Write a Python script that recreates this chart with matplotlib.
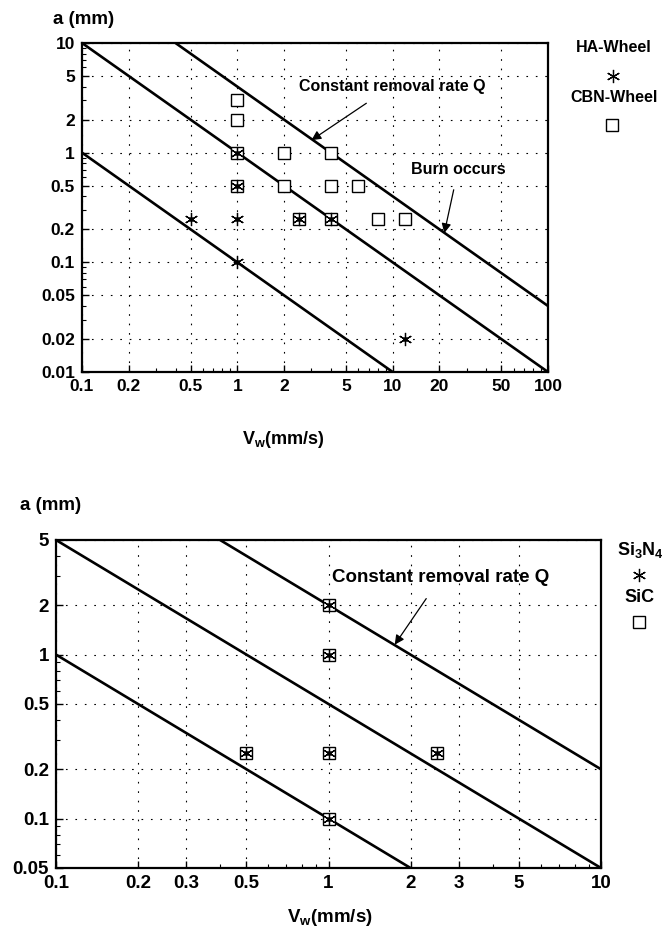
import matplotlib
matplotlib.use("Agg")
import matplotlib.pyplot as plt
from matplotlib.ticker import FixedLocator, FixedFormatter, LogLocator, NullFormatter

plt.rcParams['font.family'] = ['Liberation Sans', 'DejaVu Sans']
plt.rcParams['font.weight'] = 'bold'
plt.rcParams['mathtext.fontset'] = 'custom'
plt.rcParams['mathtext.rm'] = 'Liberation Sans:bold'
plt.rcParams['mathtext.it'] = 'Liberation Sans:bold'
plt.rcParams['mathtext.bf'] = 'Liberation Sans:bold'

# ---------------- data: top chart ----------------
top_xticks = [0.1, 0.2, 0.5, 1, 2, 5, 10, 20, 50, 100]
top_xlabels = ['0.1', '0.2', '0.5', '1', '2', '5', '10', '20', '50', '100']
top_yticks = [0.01, 0.02, 0.05, 0.1, 0.2, 0.5, 1, 2, 5, 10]
top_ylabels = ['0.01', '0.02', '0.05', '0.1', '0.2', '0.5', '1', '2', '5', '10']

ha_v = [0.5, 1, 1, 1, 1, 2.5, 4, 12]
ha_a = [0.25, 1, 0.5, 0.25, 0.1, 0.25, 0.25, 0.02]
cbn_v = [1, 1, 1, 2, 4, 1, 2, 4, 6, 2.5, 4, 8, 12]
cbn_a = [3, 2, 1, 1, 1, 0.5, 0.5, 0.5, 0.5, 0.25, 0.25, 0.25, 0.25]

# constant-Q lines (start point, end point)
top_lines_v = [[0.1, 10], [0.1, 100], [0.4, 100]]
top_lines_a = [[1, 0.01], [10, 0.01], [10, 0.04]]

# ---------------- data: bottom chart ----------------
bot_xticks = [0.1, 0.2, 0.3, 0.5, 1, 2, 3, 5, 10]
bot_xlabels = ['0.1', '0.2', '0.3', '0.5', '1', '2', '3', '5', '10']
bot_yticks = [0.05, 0.1, 0.2, 0.5, 1, 2, 5]
bot_ylabels = ['0.05', '0.1', '0.2', '0.5', '1', '2', '5']

si3n4_v = [1, 1, 0.5, 1, 2.5, 1]
si3n4_a = [2, 1, 0.25, 0.25, 0.25, 0.1]
sic_v = [1, 1, 0.5, 1, 2.5, 1]
sic_a = [2, 1, 0.25, 0.25, 0.25, 0.1]

bot_lines_v = [[0.1, 2], [0.1, 10], [0.4, 10]]
bot_lines_a = [[1, 0.05], [5, 0.05], [5, 0.2]]

W, H = 662, 939
fig = plt.figure(figsize=(W / 100, H / 100), dpi=100)


def px_axes(l, r, t, b):
    return fig.add_axes([l / W, 1 - b / H, (r - l) / W, (b - t) / H])


def fx(x):
    return x / W


def fy(y):
    return 1 - y / H


STAR = (6, 2, 0)


def style_axes(ax, xt, xl, yt, yl, xlim, ylim, lsize):
    ax.set_xscale('log')
    ax.set_yscale('log')
    ax.set_xlim(*xlim)
    ax.set_ylim(*ylim)
    ax.xaxis.set_major_locator(FixedLocator(xt))
    ax.xaxis.set_major_formatter(FixedFormatter(xl))
    ax.yaxis.set_major_locator(FixedLocator(yt))
    ax.yaxis.set_major_formatter(FixedFormatter(yl))
    ax.xaxis.set_minor_locator(LogLocator(base=10, subs=range(2, 10)))
    ax.yaxis.set_minor_locator(LogLocator(base=10, subs=range(2, 10)))
    ax.xaxis.set_minor_formatter(NullFormatter())
    ax.yaxis.set_minor_formatter(NullFormatter())
    ax.tick_params(which='major', direction='in', length=5, width=1.0,
                   labelsize=lsize, pad=5)
    ax.tick_params(which='minor', direction='in', length=3, width=0.8)
    for lab in ax.get_xticklabels() + ax.get_yticklabels():
        lab.set_fontweight('bold')
    ax.grid(True, which='major', color='black', linestyle=(0, (1.5, 7)),
            linewidth=0.8)
    for s in ax.spines.values():
        s.set_linewidth(1.6)


# ---------------- top chart ----------------
ax1 = px_axes(82, 548, 43, 372)
style_axes(ax1, top_xticks, top_xlabels, top_yticks, top_ylabels,
           (0.1, 100), (0.01, 10), 12.5)
for lv, la in zip(top_lines_v, top_lines_a):
    ax1.plot(lv, la, color='black', lw=1.9, solid_capstyle='butt')
ax1.plot(cbn_v, cbn_a, linestyle='none', marker='s', markersize=9,
         markerfacecolor='white', markeredgecolor='black', markeredgewidth=1.0,
         zorder=3)
ax1.plot(ha_v, ha_a, linestyle='none', marker=STAR, markersize=9.5,
         markeredgecolor='black', markeredgewidth=0.9, zorder=4)
ax1.plot(ha_v, ha_a, linestyle='none', marker='o', markersize=2.5,
         color='black', zorder=5)

fig.text(fx(53), fy(20), 'a (mm)', fontsize=13.5, fontweight='bold',
         ha='left', va='center')
fig.text(fx(283), fy(440), r'$\mathrm{V_w(mm/s)}$', fontsize=13,
         ha='center', va='center')

ax1.annotate('Constant removal rate Q', xy=(3.0, 1.3), xycoords='data',
             xytext=(fx(392), fy(86)), textcoords='figure fraction',
             fontsize=11.5, fontweight='bold', ha='center', va='center',
             arrowprops=dict(arrowstyle='-|>', color='black', lw=0.9,
                             mutation_scale=14, shrinkA=9, shrinkB=0))
ax1.annotate('Burn occurs', xy=(21.5, 0.185), xycoords='data',
             xytext=(fx(458), fy(170)), textcoords='figure fraction',
             fontsize=11.5, fontweight='bold', ha='center', va='center',
             arrowprops=dict(arrowstyle='-|>', color='black', lw=0.9,
                             mutation_scale=14, shrinkA=7, shrinkB=0))

# legend top
fig.text(fx(614), fy(47), 'HA-Wheel', fontsize=11.5, fontweight='bold',
         ha='center', va='center')
ax1.plot([fx(613)], [fy(76)], transform=fig.transFigure, clip_on=False,
         marker=STAR, markersize=9.5, markeredgecolor='black',
         markeredgewidth=0.9, linestyle='none')
fig.text(fx(614), fy(98), 'CBN-Wheel', fontsize=11.5, fontweight='bold',
         ha='center', va='center')
ax1.plot([fx(612)], [fy(125)], transform=fig.transFigure, clip_on=False,
         marker='s', markersize=8, markerfacecolor='white',
         markeredgecolor='black', markeredgewidth=1.0, linestyle='none')

# ---------------- bottom chart ----------------
ax2 = px_axes(56, 601, 540, 868)
style_axes(ax2, bot_xticks, bot_xlabels, bot_yticks, bot_ylabels,
           (0.1, 10), (0.05, 5), 13.5)
for lv, la in zip(bot_lines_v, bot_lines_a):
    ax2.plot(lv, la, color='black', lw=1.9, solid_capstyle='butt')
ax2.plot(sic_v, sic_a, linestyle='none', marker='s', markersize=9,
         markerfacecolor='white', markeredgecolor='black', markeredgewidth=1.0,
         zorder=3)
ax2.plot(si3n4_v, si3n4_a, linestyle='none', marker=STAR, markersize=9,
         markeredgecolor='black', markeredgewidth=0.9, zorder=4)
ax2.plot(si3n4_v, si3n4_a, linestyle='none', marker='o', markersize=2.5,
         color='black', zorder=5)

fig.text(fx(20), fy(505), 'a (mm)', fontsize=13.5, fontweight='bold',
         ha='left', va='center')
fig.text(fx(330), fy(918), r'$\mathrm{V_w(mm/s)}$', fontsize=13.5,
         ha='center', va='center')

ax2.annotate('Constant removal rate Q', xy=(1.75, 1.15), xycoords='data',
             xytext=(fx(441), fy(577)), textcoords='figure fraction',
             fontsize=13.5, fontweight='bold', ha='center', va='center',
             arrowprops=dict(arrowstyle='-|>', color='black', lw=0.9,
                             mutation_scale=14, shrinkA=9, shrinkB=0))

fig.text(fx(640), fy(550), r'$\mathrm{Si_3N_4}$', fontsize=13,
         ha='center', va='center')
ax2.plot([fx(639)], [fy(575)], transform=fig.transFigure, clip_on=False,
         marker=STAR, markersize=9.5, markeredgecolor='black',
         markeredgewidth=0.9, linestyle='none')
fig.text(fx(640), fy(598), 'SiC', fontsize=13, fontweight='bold',
         ha='center', va='center')
ax2.plot([fx(639)], [fy(622)], transform=fig.transFigure, clip_on=False,
         marker='s', markersize=8, markerfacecolor='white',
         markeredgecolor='black', markeredgewidth=1.0, linestyle='none')

fig.savefig('out.png', dpi=100)
